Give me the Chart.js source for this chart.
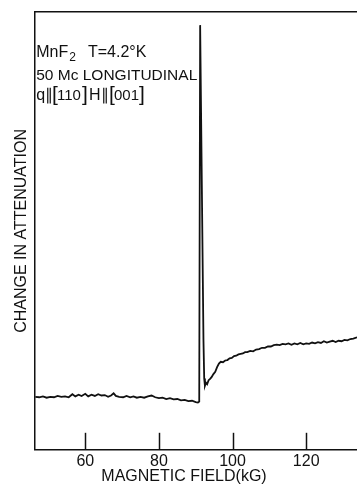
<!DOCTYPE html>
<html>
<head>
<meta charset="utf-8">
<script src="https://cdn.jsdelivr.net/npm/chart.js@4/dist/chart.umd.min.js"></script>
<style>
html,body{margin:0;padding:0;background:#fff;}
#wrap{width:357px;height:485px;position:relative;}
</style>
</head>
<body>
<div id="wrap"><canvas id="c" width="357" height="485"></canvas></div>
<script>
// Magnetic field (kG)
const fieldKG = [46.4,47.5,48.5,49.5,50.5,51.5,52.5,53.5,54.5,55.5,56.5,57.3,58.2,59.0,60.0,60.8,61.7,62.6,63.5,64.4,65.3,66.2,67.0,67.7,68.3,69.2,70.3,71.2,72.2,73.1,74.0,75.0,76.0,77.0,78.0,79.0,80.0,81.0,82.0,83.0,84.0,85.0,86.0,87.0,88.0,89.0,90.0,90.6,90.95,91.2,92.1,92.3,92.5,92.8,93.1,93.5,93.9,94.3,94.8,95.3,95.8,96.3,96.8,97.4,98.0,98.6,99.2,99.8,100.4,101.0,101.6,102.2,102.8,103.4,104.0,104.8,105.6,106.4,107.2,108.0,108.8,109.6,110.4,111.2,112.0,112.8,113.6,114.4,115.2,116.0,116.8,117.6,118.4,119.2,120.0,120.8,121.6,122.4,123.2,124.0,124.8,125.6,126.4,127.2,128.0,128.8,129.6,130.4,131.2,132.0,132.8,133.8];
// Change in attenuation (arbitrary units)
const attenuation = [12.1,12.0,12.2,11.9,12.1,12.0,12.3,12.1,12.2,12.0,12.7,12.2,12.6,12.3,12.8,12.2,12.6,12.3,12.7,12.4,12.5,12.1,12.4,12.9,12.3,12.1,12.0,12.3,12.0,12.2,11.9,12.1,11.9,12.2,12.4,12.0,11.8,11.9,11.6,11.8,11.5,11.6,11.3,11.4,11.1,11.2,10.9,10.8,11.0,97.0,25.0,16.3,14.6,15.3,15.0,15.9,16.2,16.6,17.3,17.8,18.9,19.7,20.1,20.0,20.4,20.5,20.9,21.0,21.4,21.5,21.8,21.9,22.0,22.3,22.3,22.6,22.5,22.9,23.0,23.3,23.3,23.6,23.6,23.9,24.0,23.9,24.2,24.1,24.3,24.0,24.3,24.1,24.4,24.1,24.3,24.2,24.5,24.3,24.6,24.4,24.8,24.5,24.7,24.9,24.6,24.9,24.8,25.1,25.0,25.3,25.4,25.7];
const tickValues = [60, 80, 100, 120];
const xTitle = "MAGNETIC FIELD(kG)";
const yTitle = "CHANGE IN ATTENUATION";

const FONT = "'Liberation Sans', Arial, sans-serif";
const INK = '#111';

const points = fieldKG.map((x, i) => ({x: x, y: attenuation[i]}));

const extras = {
  id: 'extras',
  afterDraw(chart) {
    const ctx = chart.ctx;
    const xs = chart.scales.x;
    const ca = chart.chartArea;
    ctx.save();
    // inward tick marks
    ctx.strokeStyle = INK;
    ctx.lineWidth = 1.5;
    tickValues.forEach(v => {
      const px = Math.round(xs.getPixelForValue(v)) + 0.5;
      ctx.beginPath();
      ctx.moveTo(px, ca.bottom);
      ctx.lineTo(px, ca.bottom - 17);
      ctx.stroke();
    });
    // x axis title
    ctx.fillStyle = INK;
    ctx.font = '16px ' + FONT;
    ctx.textAlign = 'center';
    ctx.textBaseline = 'middle';
    ctx.fillText(xTitle, 184, 477);
    // annotation
    ctx.textAlign = 'left';
    ctx.textBaseline = 'alphabetic';
    const L = ca.left + 1;
    ctx.font = '16px ' + FONT;
    ctx.fillText('MnF', L, 57);
    let w = ctx.measureText('MnF').width;
    ctx.font = '12px ' + FONT;
    ctx.fillText('2', L + w + 1, 61);
    ctx.font = '16px ' + FONT;
    ctx.fillText('T=4.2°K', 88, 57);
    ctx.font = '15.5px ' + FONT;
    ctx.fillText('50 Mc LONGITUDINAL', L, 80);
    ctx.font = '16px ' + FONT;
    ctx.fillText('q', L, 100);
    ctx.fillText('\u2225', 45, 100);
    ctx.fillText('H', 89, 100);
    ctx.fillText('\u2225', 101, 100);
    ctx.font = '15px ' + FONT;
    ctx.fillText('110', 57, 100);
    ctx.fillText('001', 114, 100);
    ctx.font = '21px ' + FONT;
    ctx.fillText('[', 52, 101);
    ctx.fillText(']', 82, 101);
    ctx.fillText('[', 109, 101);
    ctx.fillText(']', 139, 101);
    ctx.restore();
  }
};

new Chart(document.getElementById('c'), {
  type: 'line',
  data: {
    datasets: [{
      data: points,
      borderColor: INK,
      borderWidth: 1.8,
      pointRadius: 0,
      tension: 0,
      fill: false
    }]
  },
  options: {
    responsive: false,
    animation: false,
    parsing: true,
    layout: {padding: {left: 8, top: 12, right: 0, bottom: 12}},
    plugins: {legend: {display: false}, tooltip: {enabled: false}},
    scales: {
      x: {
        type: 'linear',
        position: 'bottom',
        min: 46.4,
        max: 133.8,
        afterBuildTicks: s => { s.ticks = tickValues.map(v => ({value: v})); },
        grid: {display: false, drawTicks: false},
        border: {display: true, color: INK, width: 1.5},
        ticks: {color: INK, font: {size: 16, family: FONT}, padding: 2, maxRotation: 0, autoSkip: false}
      },
      x2: {
        type: 'linear',
        position: 'top',
        min: 46.4,
        max: 133.8,
        grid: {display: false, drawTicks: false},
        border: {display: true, color: INK, width: 1.5},
        ticks: {display: false}
      },
      y: {
        min: 0,
        max: 100,
        grid: {display: false, drawTicks: false},
        border: {display: true, color: INK, width: 1.5},
        ticks: {display: false},
        title: {display: true, text: yTitle, color: INK, font: {size: 16, family: FONT}, padding: {top: 4, bottom: 4}}
      }
    }
  },
  plugins: [extras]
});
</script>
</body>
</html>
